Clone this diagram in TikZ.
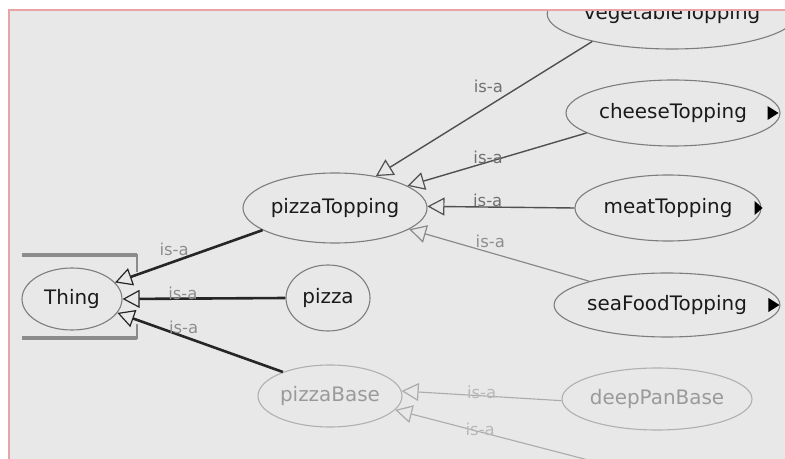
\documentclass[tikz,border=0pt]{standalone}
\usepackage{fontspec}
\usetikzlibrary{shapes.geometric,arrows.meta}
\newfontfamily\uifont{DejaVu Sans}
\definecolor{screen}{HTML}{E8E8E8}
\definecolor{rim}{HTML}{E8A4A4}
\definecolor{nodeline}{HTML}{7D7D7D}
\definecolor{nodetext}{HTML}{1A1A1A}
\definecolor{fadeline}{HTML}{B0B0B0}
\definecolor{fadetext}{HTML}{9A9A9A}
\definecolor{edgestrong}{HTML}{262626}
\definecolor{edgemid}{HTML}{505050}
\definecolor{edgelight}{HTML}{8A8A8A}
\definecolor{edgefaint}{HTML}{ABABAB}
\definecolor{lbldark}{HTML}{707070}
\definecolor{lblmid}{HTML}{8E8E8E}
\definecolor{lblfaint}{HTML}{B8B8B8}
\definecolor{bracket}{HTML}{8C8C8C}
\begin{document}
\begin{tikzpicture}[x=1bp,y=-1bp,
  cls/.style={ellipse, draw=nodeline, line width=1.1bp, inner sep=0pt,
    font=\uifont\fontsize{20}{24}\selectfont, text=nodetext},
  faded/.style={draw=fadeline, text=fadetext},
  isa/.style={-{Triangle[open,length=17bp,width=18bp,line width=1.2bp]}},
  strong/.style={isa, draw=edgestrong, line width=2.6bp},
  mid/.style={isa, draw=edgemid, line width=1.4bp},
  light/.style={isa, draw=edgelight, line width=1.2bp},
  faint/.style={isa, draw=edgefaint, line width=1.1bp},
  lbl/.style={font=\uifont\fontsize{16.5}{18}\selectfont, inner sep=0pt, text=lbldark},
  more/.style={fill=black}
]
\useasboundingbox (0,0) rectangle (785,459);
\fill[white] (0,0) rectangle (785,459);
\fill[screen] (9,10) rectangle (785,459);

\begin{scope}
\clip (9,10) rectangle (785,459);

% selection bracket around the root class
\draw[bracket, line width=4bp] (22,255) -- (137,255);
\draw[bracket, line width=4bp] (22,338) -- (137,338);
\draw[bracket, line width=2.5bp] (137,254) -- (137,272);
\draw[bracket, line width=2.5bp] (137,324) -- (137,339);

% classes
\node[cls, minimum width=100bp, minimum height=62bp] (thing) at (72,299) {Thing};
\node[cls, minimum width=184bp, minimum height=70bp] (ptop) at (335,208) {pizzaTopping};
\node[cls, minimum width=84bp, minimum height=66bp] (pizza) at (328,298) {pizza};
\node[cls, faded, minimum width=144bp, minimum height=62bp] (pbase) at (330,396) {pizzaBase};
\node[cls, minimum width=236bp, minimum height=70bp] (veg) at (672,14) {vegetableTopping};
\node[cls, minimum width=214bp, minimum height=66bp] (cheese) at (673,113) {cheeseTopping};
\node[cls, minimum width=186bp, minimum height=66bp] (meat) at (668,208) {meatTopping};
\node[cls, minimum width=224bp, minimum height=64bp] (sea) at (667,305) {seaFoodTopping};
\node[cls, faded, minimum width=190bp, minimum height=62bp] (deep) at (657,399) {deepPanBase};
\coordinate (offbase) at (800,515);

% expand markers
\fill[more] ([xshift=-10bp]veg.east) -- ++(0,-7) -- ++(10,7) -- ++(-10,7) -- cycle;
\fill[more] ([xshift=-13bp]cheese.east) -- ++(0,-7) -- ++(11,7) -- ++(-11,7) -- cycle;
\fill[more] ([xshift=-7bp]meat.east) -- ++(0,-7) -- ++(8,7) -- ++(-8,7) -- cycle;
\fill[more] ([xshift=-12bp]sea.east) -- ++(0,-7) -- ++(11,7) -- ++(-11,7) -- cycle;

% is-a relations
\draw[mid] (veg.199) -- node[lbl, pos=0.48, yshift=20bp] {is-a} (ptop.38);
\draw[mid] (cheese.193.5) -- node[lbl, pos=0.55, yshift=5bp] {is-a} (ptop.17);
\draw[mid] (meat.west) -- node[lbl, pos=0.59, yshift=7bp] {is-a} (ptop.1);
\draw[light] (sea.163) -- node[lbl, text=lblmid, pos=0.55, yshift=11bp] {is-a} (ptop.-16);
\draw[strong] (ptop.197) -- node[lbl, text=lblmid, pos=0.6, yshift=12bp] {is-a} (thing.21);
\draw[strong] (pizza.west) -- node[lbl, text=lblmid, pos=0.63, yshift=5bp] {is-a} (thing.east);
\draw[strong] (pbase.153) -- node[lbl, text=lblmid, pos=0.6, yshift=9bp] {is-a} (thing.-17);
\draw[faint] (deep.181) -- node[lbl, text=lblfaint, pos=0.5, yshift=3bp] {is-a} (pbase.4);
\draw[faint] (offbase) -- node[lbl, text=lblfaint, pos=0.79, yshift=3bp] {is-a} (pbase.-12);
\end{scope}

% screen rim
\draw[rim, line width=2bp] (9,459) -- (9,10) -- (785,10);
\end{tikzpicture}
\end{document}
